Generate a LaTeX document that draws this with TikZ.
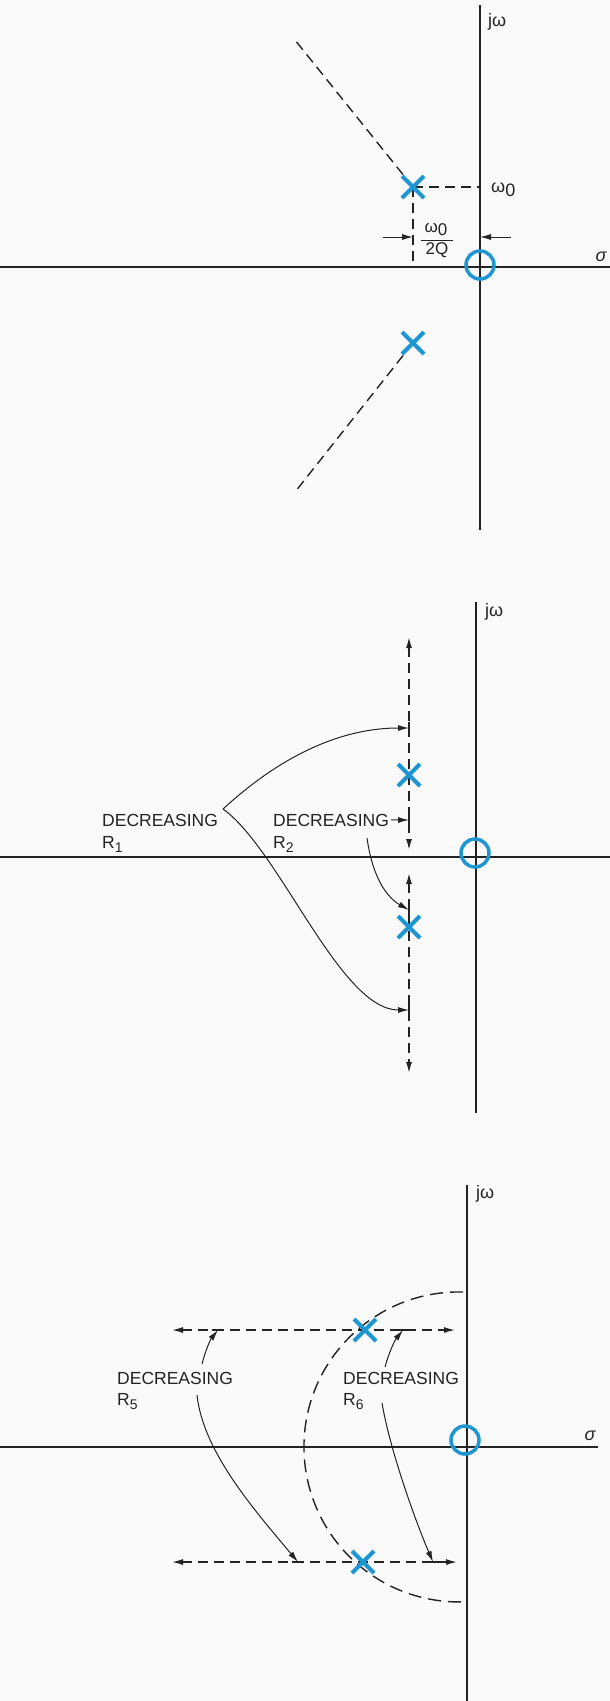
\documentclass[tikz,border=0pt]{standalone}
\usepackage{fontspec}
\setmainfont{Liberation Sans}
\usetikzlibrary{arrows.meta}
\definecolor{ink}{RGB}{35,35,35}
\definecolor{pblue}{RGB}{30,150,210}
\definecolor{paper}{RGB}{250,250,250}
\newcommand{\lowsub}[1]{\raisebox{-4pt}{\fontsize{14}{14}\selectfont #1}}
\begin{document}
\begin{tikzpicture}[x=1pt,y=-1pt,
 axis/.style={draw=ink, line width=1.4pt},
 locus/.style={draw=ink, line width=1.4pt, dash pattern=on 10pt off 6pt},
 arcloc/.style={draw=ink, line width=1.4pt, dash pattern=on 13pt off 7pt},
 arr/.style={-{Latex[length=11pt,width=6pt]}},
 darr/.style={{Latex[length=11pt,width=6pt]}-{Latex[length=11pt,width=6pt]}},
 guide/.style={draw=ink, line width=1pt},
 zerocirc/.style={draw=pblue, line width=3.5pt, circle, minimum size=28pt, inner sep=0pt},
 lbl/.style={font=\fontsize{17.5}{17.5}\selectfont, text=ink, inner sep=0pt, anchor=base west},
 axlbl/.style={font=\fontsize{18}{18}\selectfont, text=ink, inner sep=0pt},
 fraclbl/.style={font=\fontsize{17}{17}\selectfont, text=ink, inner sep=0pt},
 polex/.pic={\draw[pblue, line width=4pt] (-11,-11) -- (11,11) (-11,11) -- (11,-11);}
]
\fill[paper] (0,0) rectangle (610,1701);
\useasboundingbox (0,0) rectangle (610,1701);

% ---------------- panel 1 ----------------
\coordinate (a1t) at (480,5); \coordinate (a1b) at (480,530);
\coordinate (a1l) at (0,267); \coordinate (a1r) at (610,267);
\draw[axis] (a1t) -- (a1b);
\draw[axis] (a1l) -- (a1r);
\node[axlbl, anchor=west] (jw1) at (488,22) {jω};
\node[axlbl] (s1) at (601,257) {\itshape σ};
\coordinate (p1u) at (413,187); \coordinate (p1l) at (413,343);
\coordinate (e1u) at (295,40); \coordinate (e1l) at (295,492);
\draw[locus] (p1u) -- (e1u);
\draw[locus] (p1l) -- (e1l);
\coordinate (w1) at (480,187); \coordinate (f1) at (413,267);
\draw[locus] (p1u) -- (w1);
\draw[locus] (p1u) -- (f1);
\node[axlbl, anchor=west] (w0) at (491,190) {ω\raisebox{-4pt}{0}};
\coordinate (d1a) at (383,237); \coordinate (d1b) at (413,237);
\coordinate (d1c) at (511,237); \coordinate (d1d) at (480,237);
\draw[guide,arr] (d1a) -- (d1b);
\draw[guide,arr] (d1c) -- (d1d);
\node[fraclbl] (fn) at (436,229) {ω\raisebox{-3pt}{0}};
\coordinate (fb1) at (421,240); \coordinate (fb2) at (453,240);
\draw[guide] (fb1) -- (fb2);
\node[fraclbl] (fd) at (437,250) {2Q};
\node[zerocirc] (z1) at (480,265) {};
\pic at (p1u) {polex};
\pic at (p1l) {polex};

% ---------------- panel 2 ----------------
\coordinate (a2t) at (476,602); \coordinate (a2b) at (476,1113);
\coordinate (a2l) at (0,857); \coordinate (a2r) at (610,857);
\draw[axis] (a2t) -- (a2b);
\draw[axis] (a2l) -- (a2r);
\node[axlbl, anchor=west] (jw2) at (485,612) {jω};
\coordinate (l2a) at (409,637); \coordinate (l2b) at (409,850);
\coordinate (l2c) at (409,873); \coordinate (l2d) at (409,1073);
\draw[locus,darr] (l2a) -- (l2b);
\draw[locus,darr] (l2c) -- (l2d);
\coordinate (t2a) at (409,728); \coordinate (t2b) at (409,820);
\coordinate (t2c) at (409,910); \coordinate (t2d) at (409,1010);
\foreach \t in {t2a,t2b,t2c,t2d} {\draw[axis] (\t) ++(0,-6) -- ++(0,12);}
\node[lbl] (dr1) at (102,826) {DECREASING};
\node[lbl] (rr1) at (102,848) {R\lowsub{1}};
\node[lbl] (dr2) at (273,826) {DECREASING};
\node[lbl] (rr2) at (273,848) {R\lowsub{2}};
\coordinate (b1) at (223,809);
\draw[guide,arr] (b1) .. controls (285,752) and (345,728) .. (t2a);
\draw[guide,arr] (b1) .. controls (280,850) and (340,1010) .. (t2d);
\draw[guide,arr] ([xshift=2pt]dr2.east) -- (t2b);
\coordinate (c2) at (367,838);
\draw[guide,arr] (c2) .. controls (373,880) and (388,898) .. (t2c);
\node[zerocirc] (z2) at (475,853) {};
\coordinate (p2u) at (409,775); \coordinate (p2l) at (409,927);
\pic at (p2u) {polex};
\pic at (p2l) {polex};

% ---------------- panel 3 ----------------
\coordinate (a3t) at (467,1185); \coordinate (a3b) at (467,1701);
\coordinate (a3l) at (0,1447); \coordinate (a3r) at (598,1447);
\draw[axis] (a3t) -- (a3b);
\draw[axis] (a3l) -- (a3r);
\node[axlbl, anchor=west] (jw3) at (476,1194) {jω};
\node[axlbl] (s3) at (590,1436) {\itshape σ};
\coordinate (arcT) at (463,1292);
\draw[arcloc] (arcT) arc[start angle=-88.5, end angle=-271.5, radius=155];
\coordinate (l3a) at (172,1330); \coordinate (l3b) at (455,1330);
\coordinate (l3c) at (172,1562); \coordinate (l3d) at (457,1562);
\draw[locus,darr] (l3a) -- (l3b);
\draw[locus,darr] (l3c) -- (l3d);
\coordinate (t5a) at (218,1330); \coordinate (t6a) at (403,1330);
\coordinate (t5b) at (298,1562); \coordinate (t6b) at (433,1562);
\foreach \t in {t5a,t6a,t5b,t6b} {\draw[axis] (\t) ++(-6,0) -- ++(12,0);}
\node[lbl] (dr5) at (117,1384) {DECREASING};
\node[lbl] (rr5) at (117,1405) {R\lowsub{5}};
\node[lbl] (dr6) at (343,1384) {DECREASING};
\node[lbl] (rr6) at (343,1405) {R\lowsub{6}};
\coordinate (c5a) at (202,1364); \coordinate (c6a) at (385,1367);
\coordinate (c5b) at (197,1395); \coordinate (c6b) at (382,1403);
\draw[guide,arr] (c5a) .. controls (205,1352) and (210,1340) .. (t5a);
\draw[guide,arr] (c6a) .. controls (389,1352) and (395,1340) .. (t6a);
\draw[guide,arr] (c5b) .. controls (203,1450) and (250,1505) .. (t5b);
\draw[guide,arr] (c6b) .. controls (390,1450) and (415,1520) .. (t6b);
\node[zerocirc] (z3) at (465,1440) {};
\coordinate (p3u) at (365,1330); \coordinate (p3l) at (363,1562);
\pic at (p3u) {polex};
\pic at (p3l) {polex};
\end{tikzpicture}
\end{document}
